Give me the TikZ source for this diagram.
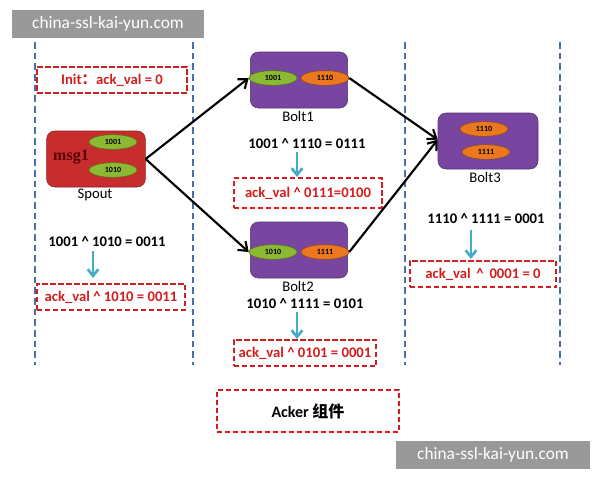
\documentclass[tikz,border=0pt]{standalone}
\usepackage{fontspec}
\setmainfont{Carlito}
\newfontfamily\cjk{Noto Sans CJK SC}
\newfontfamily\serifb{Liberation Serif}
\usetikzlibrary{arrows.meta,shapes.geometric}
\definecolor{vlblue}{RGB}{70,110,170}
\definecolor{rbox}{RGB}{210,30,30}
\definecolor{purp}{RGB}{120,70,160}
\definecolor{spred}{RGB}{200,45,45}
\definecolor{grn}{RGB}{140,185,50}
\definecolor{org}{RGB}{235,120,30}
\definecolor{cyanarr}{RGB}{70,170,200}
\begin{document}
\begin{tikzpicture}[x=0.75pt,y=-0.75pt,
  vline/.style={vlblue,line width=1.5pt,dash pattern=on 5pt off 3pt},
  rb/.style={draw=rbox,line width=1.3pt,dash pattern=on 4pt off 2pt,fill=white,text=rbox,font=\fontsize{11}{13}\selectfont\bfseries,inner sep=0pt},
  bolt/.style={rounded corners=6pt,fill=purp,draw=purp!70!black,inner sep=0pt},
  el/.style={ellipse,draw=#1!60!black,fill=#1,minimum width=36pt,minimum height=11pt,inner sep=0pt,font=\fontsize{6}{7}\selectfont\bfseries},
  lbl/.style={font=\fontsize{11}{13}\selectfont},
  eq/.style={font=\fontsize{11}{13}\selectfont\bfseries},
  ca/.style={cyanarr,line width=2pt,-{Straight Barb[length=5pt,width=8pt]}},
  ka/.style={black,line width=1.6pt,-{Straight Barb[length=6pt,width=9pt]}},
  wm/.style={fill=gray!80,text=white,inner sep=0pt,font=\fontsize{13}{15}\selectfont}]
\useasboundingbox (0,0) rectangle (600,480);
\fill[white] (0,0) rectangle (600,480);
\foreach \x/\e in {35/365,193/365,405/365,560/365} \draw[vline] (\x,42) -- (\x,\e);
% watermarks
\node[wm,minimum width=144pt,minimum height=21pt] (wm1) at (108,24) {china-ssl-kai-yun.com};
\node[wm,minimum width=145pt,minimum height=21pt] (wm2) at (493,455) {china-ssl-kai-yun.com};
% init
\node[rb,minimum width=112pt,minimum height=20pt] (init) at (112,80) {Init{\cjk ：}ack\_val = 0};
% spout
\node[rounded corners=6pt,fill=spred,draw=spred!70!black,minimum width=74pt,minimum height=42pt] (spout) at (96,159) {};
\node[text=red!35!black,font=\serifb\fontsize{12}{14}\selectfont\bfseries] (msg) at (71,157) {msg1};
\node[el=grn] (s1) at (113,142) {1001};
\node[el=grn] (s2) at (113,170) {1010};
\node[lbl] (spl) at (95,195) {Spout};
\node[eq] (eq1) at (107,242) {1001 \^{} 1010 = 0011};
\coordinate (a1s) at (93,251); \coordinate (a1e) at (93,278);
\draw[ca] (a1s) -- (a1e);
\node[rb,minimum width=111pt,minimum height=20pt] (r1) at (111,297) {ack\_val \^{} 1010 = 0011};
% bolt1
\node[bolt,minimum width=73pt,minimum height=42pt] (b1) at (299,80) {};
\node[el=grn] (b1a) at (273,78) {1001};
\node[el=org] (b1b) at (325,78) {1110};
\node[lbl] (b1l) at (298,116) {Bolt1};
\node[eq] (eq2) at (307,144) {1001 \^{} 1110 = 0111};
\coordinate (a2s) at (297,152); \coordinate (a2e) at (297,177);
\draw[ca] (a2s) -- (a2e);
\node[rb,minimum width=111pt,minimum height=22pt] (r2) at (308,193) {ack\_val \^{} 0111=0100};
% bolt2
\node[bolt,minimum width=73pt,minimum height=42pt] (b2) at (299,250) {};
\node[el=grn] (b2a) at (273,252) {1010};
\node[el=org] (b2b) at (325,252) {1111};
\node[lbl] (b2l) at (298,286) {Bolt2};
\node[eq] (eq3) at (305,304) {1010 \^{} 1111 = 0101};
\coordinate (a3s) at (297,312); \coordinate (a3e) at (297,339);
\draw[ca] (a3s) -- (a3e);
\node[rb,minimum width=107pt,minimum height=20pt] (r3) at (305,353) {ack\_val \^{} 0101 = 0001};
% bolt3
\node[bolt,minimum width=75pt,minimum height=42pt] (b3) at (488,141) {};
\node[el=org] (b3a) at (484,129) {1110};
\node[el=org] (b3b) at (486,152) {1111};
\node[lbl] (b3l) at (485,177) {Bolt3};
\node[eq] (eq4) at (486,219) {1110 \^{} 1111 = 0001};
\coordinate (a4s) at (471,230); \coordinate (a4e) at (471,259);
\draw[ca] (a4s) -- (a4e);
\node[rb,minimum width=110pt,minimum height=20pt] (r4) at (483,274) {ack\_val \,\^{}\, 0001 = 0};
% acker
\node[rb,text=black,minimum width=137pt,minimum height=31pt,line width=1.6pt,font=\fontsize{12}{14}\selectfont\bfseries] (acker) at (308,411) {Acker {\cjk\bfseries 组件}};
% arrows
\draw[ka] (spout.east) -- (b1a.west);
\draw[ka] (spout.east) -- (b2a.west);
\draw[ka] (b1b.east) -- ([yshift=1pt]b3.west);
\draw[ka] (b2b.east) -- ([yshift=1pt]b3.west);
\end{tikzpicture}
\end{document}
